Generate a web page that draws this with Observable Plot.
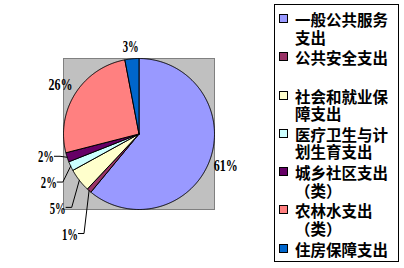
<!DOCTYPE html>
<html><head><meta charset="utf-8">
<script src="https://cdn.jsdelivr.net/npm/d3@7"></script>
<script src="https://cdn.jsdelivr.net/npm/@observablehq/plot@0.6"></script>
<style>
body{margin:0;background:#fff;}
#wrap{position:relative;width:404px;height:268px;overflow:hidden;background:#fff;}
#chart{position:absolute;left:0;top:0;}
#legend{position:absolute;left:274px;top:4px;width:123px;height:250px;padding-top:6px;border:1px solid #000;font-family:"Noto Sans CJK SC";font-weight:700;font-size:15.5px;line-height:17.5px;color:#000;}
.item{position:relative;padding-left:20px;margin-bottom:3.3px;width:103px;}
.sw{position:absolute;left:4px;top:3px;width:7px;height:7px;border:1px solid #000;}
</style></head><body>
<div id="wrap"><div id="chart"></div><div id="legend"></div></div>
<script>
// ---- data ----
const categories = ["一般公共服务支出","公共安全支出","社会和就业保障支出","医疗卫生与计划生育支出","城乡社区支出（类）","农林水支出（类）","住房保障支出"];
const values = [61, 1, 5, 2, 2, 26, 3];
const valueLabels = ["61%","1%","5%","2%","2%","26%","3%"];
const colors = ["#9999FF","#993366","#FFFFCC","#CCFFFF","#660066","#FF8080","#0066CC"];

// ---- layout (pie radius units) ----
const labelRadius = {0: 1.22, 5: 1.23, 6: 1.16};
const calloutOffset = {1: [-0.147, 0.578], 2: [-0.181, 0.369], 3: [-0.184, 0.221], 4: [-0.175, -0.004]};
const elbowGap = 0.08;

const arcs = d3.pie().sort(null).value(d => d)(values);
const slices = [];
arcs.forEach((a, i) => {
  const n = Math.max(2, Math.ceil((a.endAngle - a.startAngle) / 0.01));
  slices.push({cat: categories[i], color: colors[i], x: 0, y: 0});
  for (let k = 0; k <= n; k++) {
    const t = a.startAngle + (a.endAngle - a.startAngle) * k / n;
    slices.push({cat: categories[i], color: colors[i], x: Math.sin(t), y: -Math.cos(t)});
  }
  slices.push({cat: categories[i], color: colors[i], x: 0, y: 0});
});

const bigLabels = [], smallLabels = [], leaders = [];
arcs.forEach((a, i) => {
  const mid = (a.startAngle + a.endAngle) / 2;
  const ex = Math.sin(mid), ey = -Math.cos(mid);
  if (labelRadius[i] != null) {
    bigLabels.push({x: ex * labelRadius[i], y: ey * labelRadius[i], text: valueLabels[i]});
  } else {
    const [ox, oy] = calloutOffset[i];
    const lx = ex + ox, ly = ey + oy;
    smallLabels.push({x: lx, y: ly, text: valueLabels[i]});
    const elx = Math.min(lx + elbowGap, ex);
    leaders.push({cat: categories[i], x: lx + 0.005, y: ly - 0.01});
    leaders.push({cat: categories[i], x: elx, y: ly - 0.01});
    leaders.push({cat: categories[i], x: ex, y: ey});
  }
});

const textStyle = {fontFamily: "Liberation Serif", fontWeight: "bold", fontSize: 17, fill: "#000"};

const plot = Plot.plot({
  width: 270, height: 268,
  marginLeft: 63, marginRight: 56, marginTop: 58, marginBottom: 59,
  x: {domain: [-1, 1], axis: null},
  y: {domain: [-1, 1], reverse: true, axis: null},
  color: {type: "identity"},
  style: {background: "none", overflow: "visible"},
  marks: [
    Plot.frame({fill: "#C0C0C0", stroke: "#808080", strokeWidth: 1}),
    Plot.line(slices, {x: "x", y: "y", z: "cat", fill: "color", stroke: "#000", strokeWidth: 1, strokeLinejoin: "round"}),
    Plot.line(leaders, {x: "x", y: "y", z: "cat", stroke: "#000", strokeWidth: 1}),
    Plot.text(bigLabels, {x: "x", y: "y", text: "text", textAnchor: "middle", ...textStyle}),
    Plot.text(smallLabels, {x: "x", y: "y", text: "text", textAnchor: "end", ...textStyle})
  ]
});
plot.querySelectorAll('g[aria-label="text"] text').forEach(t => {
  t.setAttribute("textLength", t.textContent.length * 8);
  t.setAttribute("lengthAdjust", "spacingAndGlyphs");
});
document.getElementById("chart").appendChild(plot);

const legend = document.getElementById("legend");
categories.forEach((c, i) => {
  const item = document.createElement("div");
  item.className = "item";
  if (i === 1) item.style.paddingBottom = "17.5px";
  const sw = document.createElement("div");
  sw.className = "sw";
  sw.style.background = colors[i];
  item.appendChild(sw);
  item.appendChild(document.createTextNode(c));
  legend.appendChild(item);
});
</script>
</body></html>
